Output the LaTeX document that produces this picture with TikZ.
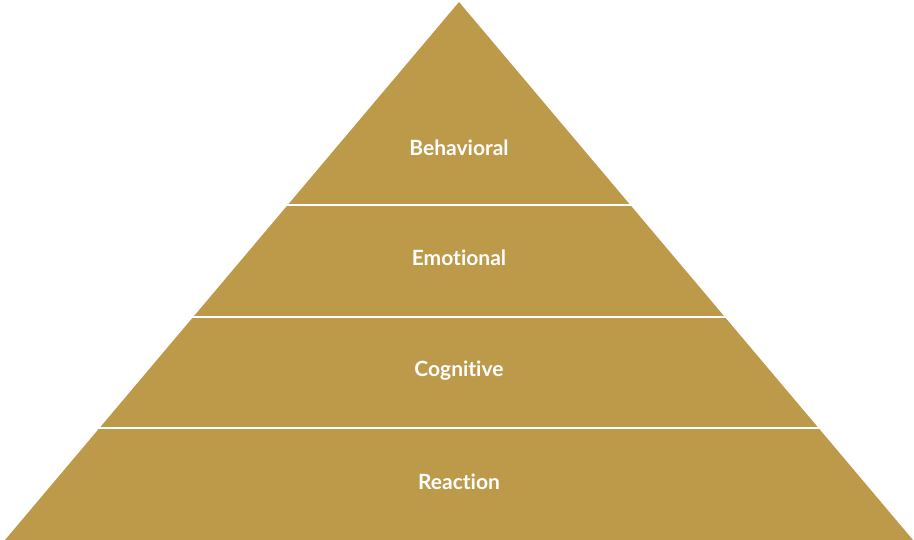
\documentclass[tikz,border=0pt]{standalone}
\usepackage{fontspec}
\setmainfont{Lato}[Ligatures={NoCommon,NoRare,NoDiscretionary}]
\usepackage{tikz}
\usetikzlibrary{calc}
\definecolor{goldc}{HTML}{BD9A4A}
\colorlet{pyramidcolor}{goldc}
\colorlet{labelcolor}{white}
\tikzstyle{layerlabel} =[
    text=labelcolor,
    font=\fontsize{21}{24}\selectfont\bfseries,
    anchor=base,
    inner sep=0pt
    ]
\tikzstyle{gapline} = [
    draw=white,
    line width=2pt
    ]
\begin{document}
\begin{tikzpicture}[x=1pt,y=-1pt]
\useasboundingbox (0,0) rectangle (914,540);
\coordinate (apex) at (459,2);
\coordinate (baseleft) at (5,540);
\coordinate (baseright) at (913,540);
\fill[pyramidcolor] (apex) -- (baseright) -- (baseleft) -- cycle;
% gaps between the layers
\foreach \y in {205,317,428}
    \draw[gapline] (0,\y) -- (914,\y);
\node[layerlabel] (behavioral) at (459,155.5) {Behavioral};
\node[layerlabel] (emotional) at (459,266) {Emotional};
\node[layerlabel] (cognitive) at (459,377) {Cognitive};
\node[layerlabel] (reaction) at (459,489) {Reaction};
\end{tikzpicture}
\end{document}
